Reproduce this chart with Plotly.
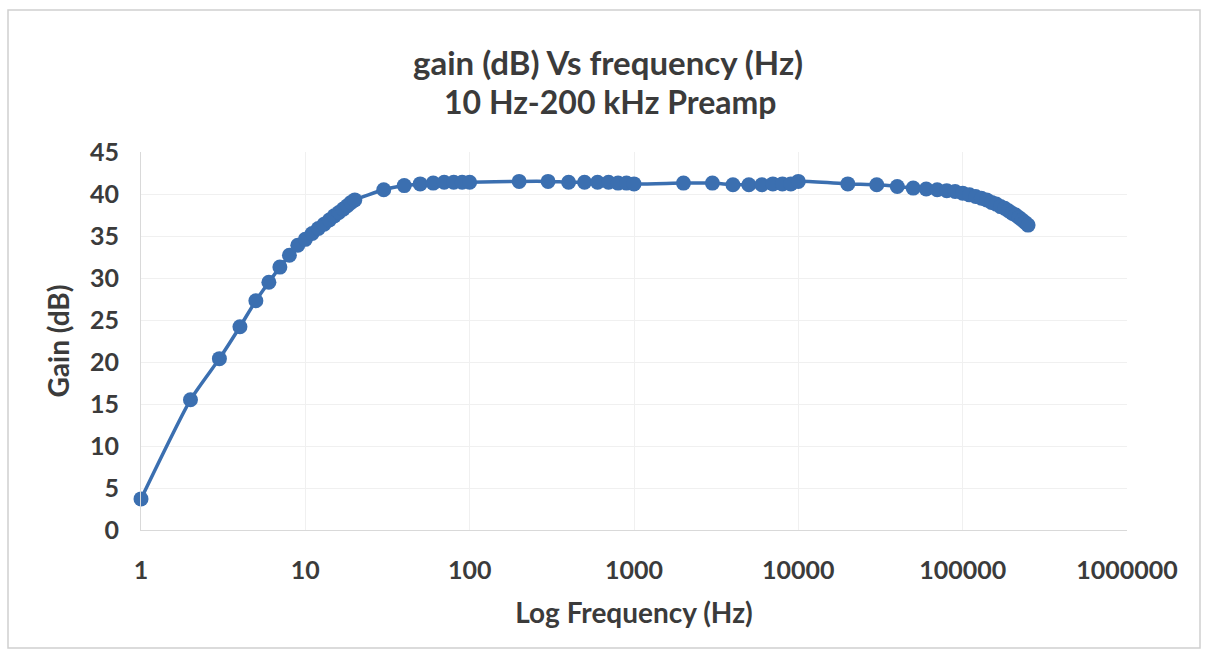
import plotly.graph_objects as go

freq_hz = [1, 2, 3, 4, 5, 6, 7, 8, 9, 10,
           11, 12, 13, 14, 15, 16, 17, 18, 19, 20,
           30, 40, 50, 60, 70, 80, 90, 100,
           200, 300, 400, 500, 600, 700, 800, 900, 1000,
           2000, 3000, 4000, 5000, 6000, 7000, 8000, 9000, 10000,
           20000, 30000, 40000, 50000, 60000, 70000, 80000, 90000, 100000,
           110000, 120000, 130000, 140000, 150000, 160000, 170000, 180000,
           190000, 200000, 210000, 220000, 230000, 240000, 250000]
gain_db = [3.7, 15.5, 20.4, 24.2, 27.3, 29.5, 31.3, 32.7, 33.9, 34.6,
           35.3, 35.9, 36.4, 36.9, 37.4, 37.8, 38.2, 38.6, 39.0, 39.3,
           40.5, 41.0, 41.2, 41.3, 41.4, 41.4, 41.4, 41.4,
           41.5, 41.5, 41.4, 41.4, 41.4, 41.4, 41.3, 41.3, 41.2,
           41.3, 41.3, 41.1, 41.1, 41.1, 41.2, 41.2, 41.2, 41.5,
           41.2, 41.1, 40.9, 40.7, 40.6, 40.5, 40.4, 40.3, 40.1,
           39.9, 39.7, 39.5, 39.3, 39.0, 38.8, 38.5, 38.3, 38.0,
           37.7, 37.5, 37.2, 36.9, 36.6, 36.3]

x_tickvals = [1, 10, 100, 1000, 10000, 100000, 1000000]
x_ticktext = ["1", "10", "100", "1000", "10000", "100000", "1000000"]
y_tickvals = [0, 5, 10, 15, 20, 25, 30, 35, 40, 45]

title_line1 = "gain (dB) Vs frequency (Hz)"
title_line2 = "10 Hz-200 kHz Preamp"
x_title = "Log Frequency (Hz)"
y_title = "Gain (dB)"

BLUE = "#3b6fb0"
TXT = "#3b3b3b"
FONT = "Lato"

# plot area in pixels
L, R, T, B = 141, 1127, 152, 530
W, H = R - L, B - T

fig = go.Figure()
fig.add_trace(go.Scatter(
    x=freq_hz, y=gain_db, mode="lines+markers",
    line=dict(color=BLUE, width=3.5, shape="spline", smoothing=0.6),
    marker=dict(color=BLUE, size=15),
    cliponaxis=False,
    showlegend=False, hoverinfo="x+y",
))

fig.update_layout(
    width=1209, height=659,
    margin=dict(l=L, r=1209 - R, t=T, b=659 - B),
    paper_bgcolor="white", plot_bgcolor="white",
    font=dict(family=FONT, color=TXT),
    xaxis=dict(
        type="log", range=[0, 6],
        tickvals=x_tickvals, ticktext=x_ticktext,
        tickfont=dict(family=FONT, size=25, color=TXT, weight="bold"),
        ticklabelstandoff=18,
        showgrid=True, gridcolor="#f0f0f0", gridwidth=1,
        showline=True, linecolor="#d9d9d9", linewidth=1,
        zeroline=False, ticks="",
        title=dict(text=x_title, font=dict(family=FONT, size=28, color=TXT, weight="bold"), standoff=20),
    ),
    yaxis=dict(
        range=[0, 45], tickvals=y_tickvals,
        tickfont=dict(family=FONT, size=25, color=TXT, weight="bold"),
        ticklabelstandoff=16,
        showgrid=True, gridcolor="#f0f0f0", gridwidth=1,
        showline=True, linecolor="#d9d9d9", linewidth=1,
        zeroline=False, ticks="",
        title=dict(text=y_title, font=dict(family=FONT, size=28, color=TXT, weight="bold"), standoff=12),
    ),
)

fig.add_annotation(text=title_line1, xref="paper", yref="paper",
                   x=(608 - L) / W, y=(B - 62) / H, xanchor="center", yanchor="middle",
                   showarrow=False,
                   font=dict(family=FONT, size=33, color=TXT, weight="bold"))
fig.add_annotation(text=title_line2, xref="paper", yref="paper",
                   x=(610 - L) / W, y=(B - 101) / H, xanchor="center", yanchor="middle",
                   showarrow=False,
                   font=dict(family=FONT, size=32, color=TXT, weight="bold"))

# outer chart-area border
fig.add_shape(type="rect", xref="paper", yref="paper",
              x0=(8 - L) / W, x1=(1200 - L) / W,
              y0=(B - 648) / H, y1=(B - 10) / H,
              line=dict(color="#d0d0d0", width=1.5), fillcolor="rgba(0,0,0,0)", layer="below")

fig.write_html("out.html")
